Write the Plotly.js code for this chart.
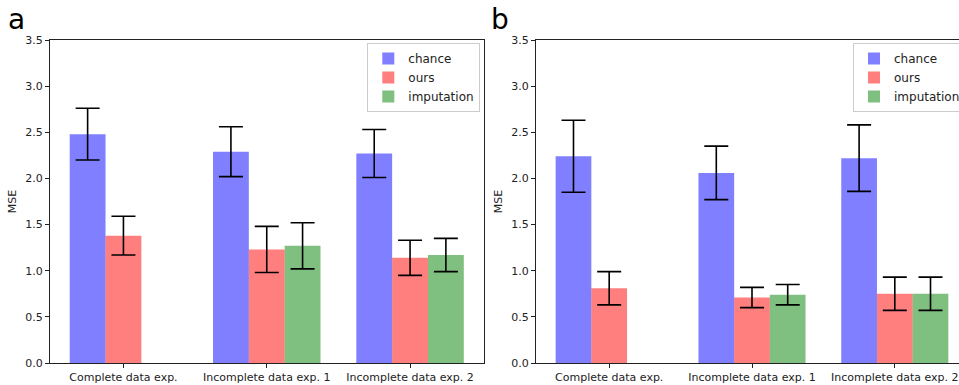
<!DOCTYPE html>
<html>
<head>
<meta charset="utf-8">
<script src="https://cdn.plot.ly/plotly-3.0.1.min.js"></script>
<style>
html, body { margin: 0; padding: 0; overflow: hidden; background: #fff; }
#chart { width: 975px; height: 385px; }
</style>
</head>
<body>
<div id="chart"></div>
<script>
// ---- data ----
const categories = ["Complete data exp.", "Incomplete data exp. 1", "Incomplete data exp. 2"];
const seriesNames = ["chance", "ours", "imputation"];
const panelLabels = ["a", "b"];

// panel a
const chanceA = [2.48, 2.29, 2.27];
const chanceErrA = [0.28, 0.27, 0.26];
const oursA = [1.38, 1.23, 1.14];
const oursErrA = [0.21, 0.25, 0.19];
const imputationA = [null, 1.27, 1.17];
const imputationErrA = [null, 0.25, 0.18];

// panel b
const chanceB = [2.24, 2.06, 2.22];
const chanceErrB = [0.39, 0.29, 0.36];
const oursB = [0.81, 0.71, 0.75];
const oursErrB = [0.18, 0.11, 0.18];
const imputationB = [null, 0.74, 0.75];
const imputationErrB = [null, 0.11, 0.18];

const yTicks = [0, 0.5, 1.0, 1.5, 2.0, 2.5, 3.0, 3.5];

// ---- styling ----
const colors = ["rgba(0,0,255,0.5)", "rgba(255,0,0,0.5)", "rgba(0,128,0,0.5)"];
const font = "DejaVu Sans, sans-serif";

function mkTrace(name, vals, errs, color, xa, ya, legend, showlegend) {
  return {
    type: "bar",
    name: name,
    x: categories,
    y: vals,
    xaxis: xa,
    yaxis: ya,
    legend: legend,
    showlegend: showlegend,
    marker: { color: color, line: { width: 0 } },
    error_y: { type: "data", array: errs, visible: true, color: "#000", thickness: 1.6, width: 12 },
    hoverinfo: "skip"
  };
}

const data = [
  mkTrace(seriesNames[0], chanceA, chanceErrA, colors[0], "x", "y", "legend", true),
  mkTrace(seriesNames[1], oursA, oursErrA, colors[1], "x", "y", "legend", true),
  mkTrace(seriesNames[2], imputationA, imputationErrA, colors[2], "x", "y", "legend", true),
  mkTrace(seriesNames[0], chanceB, chanceErrB, colors[0], "x2", "y2", "legend2", true),
  mkTrace(seriesNames[1], oursB, oursErrB, colors[1], "x2", "y2", "legend2", true),
  mkTrace(seriesNames[2], imputationB, imputationErrB, colors[2], "x2", "y2", "legend2", true)
];

const W = 975, H = 385;
const yDom = [(H - 363) / H, (H - 40) / H];

function xAxis(domain, anchor) {
  return {
    domain: domain, anchor: anchor,
    type: "category",
    range: [-0.5125, 2.5125],
    showline: true, mirror: true, linecolor: "#222", linewidth: 1,
    ticks: "outside", ticklen: 4, tickwidth: 1, tickcolor: "#222",
    showgrid: false, zeroline: false,
    tickfont: { family: font, size: 11, color: "#222" },
    automargin: false, fixedrange: true
  };
}
function yAxis(anchor) {
  return {
    domain: yDom, anchor: anchor,
    range: [0, 3.5],
    tickvals: yTicks, tickformat: ".1f",
    showline: true, mirror: true, linecolor: "#222", linewidth: 1,
    ticks: "outside", ticklen: 4, tickwidth: 1, tickcolor: "#222",
    showgrid: false, zeroline: false,
    tickfont: { family: font, size: 11, color: "#222" },
    title: { text: "MSE", font: { family: font, size: 11, color: "#222" }, standoff: 6 },
    automargin: false, fixedrange: true
  };
}

const legendStyle = (x) => ({
  x: x, y: (H - 43) / H, xanchor: "left", yanchor: "top",
  bgcolor: "rgba(255,255,255,0.8)", bordercolor: "#cccccc", borderwidth: 1,
  font: { family: font, size: 12, color: "#222" },
  tracegroupgap: 0, itemclick: false, itemdoubleclick: false
});

const layout = {
  width: W, height: H,
  margin: { l: 0, r: 0, t: 0, b: 0, pad: 0 },
  paper_bgcolor: "#fff", plot_bgcolor: "#fff",
  barmode: "group", bargap: 0.25, bargroupgap: 0,
  font: { family: font, color: "#222" },
  xaxis: xAxis([50 / W, 483.5 / W], "y"),
  yaxis: yAxis("x"),
  xaxis2: xAxis([536 / W, 968 / W], "y2"),
  yaxis2: yAxis("x2"),
  legend: legendStyle(367.3 / W),
  legend2: legendStyle(853 / W),
  annotations: [
    { text: panelLabels[0], xref: "paper", yref: "paper", x: 6 / W, y: 0.90, xanchor: "left", yanchor: "bottom",
      showarrow: false, font: { family: font, size: 28, color: "#000" } },
    { text: panelLabels[1], xref: "paper", yref: "paper", x: 489 / W, y: 0.90, xanchor: "left", yanchor: "bottom",
      showarrow: false, font: { family: font, size: 28, color: "#000" } }
  ]
};

Plotly.newPlot("chart", data, layout, { displayModeBar: false, staticPlot: true });
</script>
</body>
</html>
